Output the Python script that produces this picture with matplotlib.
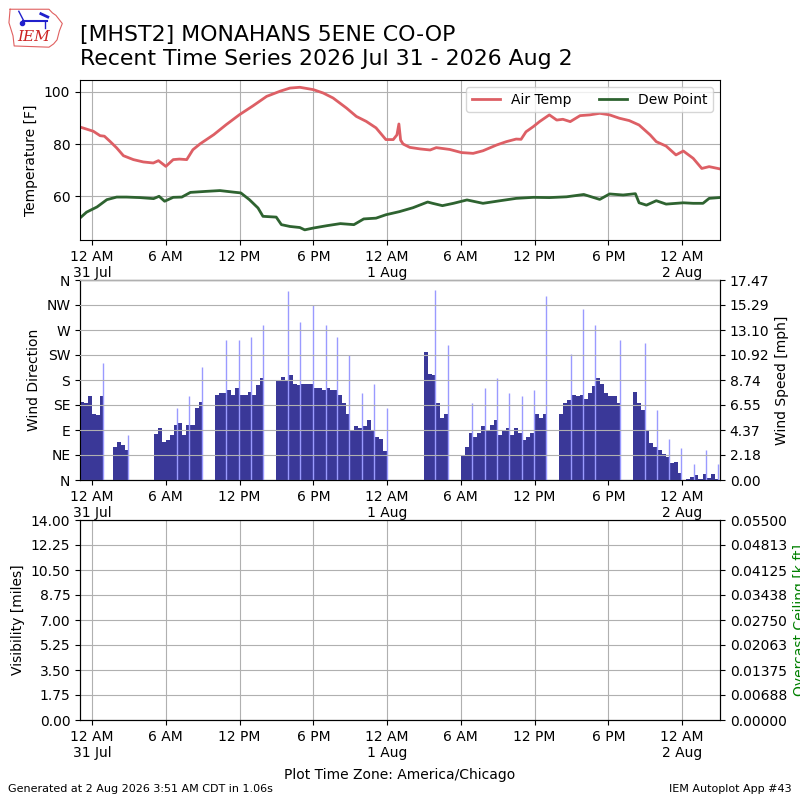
import numpy as np
import pandas as pd
import matplotlib
matplotlib.use("Agg")
import matplotlib.pyplot as plt
import matplotlib.dates as mdates
from matplotlib.ticker import FuncFormatter

# reference day, all hours below are counted from this midnight
base = pd.Timestamp("2026-07-31 00:00")

# air temperature (hours from base, F)
temp_hours = [-0.9, 0.1, 0.65, 1.0, 1.46, 2.0, 2.55, 3.36, 4.17, 4.98, 5.4, 6.0, 6.6, 7.1,
              7.7, 8.2, 8.8, 9.9, 10.9, 12.0, 13.1, 14.2, 15.3, 16.1, 16.9, 18.0, 18.8,
              19.6, 20.7, 21.5, 22.3, 23.1, 23.9, 24.5, 24.8, 24.96, 25.1, 25.3, 25.85,
              26.7, 27.5, 28.0, 29.1, 30.06, 31.0, 31.8, 32.9, 33.7, 34.5, 34.9, 35.3,
              35.9, 36.4, 37.2, 37.8, 38.3, 38.9, 39.7, 40.5, 41.3, 42.1, 42.9, 43.7,
              44.5, 45.4, 45.9, 46.7, 47.5, 48.1, 48.9, 49.6, 50.2, 51.0]
temp_vals = [86.4, 84.9, 83.2, 83.0, 81.0, 78.5, 75.5, 74.0, 73.1, 72.7, 73.6, 71.4, 74.0, 74.2,
             74.0, 77.8, 80.1, 83.6, 87.4, 91.3, 94.7, 98.3, 100.3, 101.5, 101.8, 100.9, 99.6,
             97.7, 93.8, 90.6, 88.7, 86.2, 81.7, 81.7, 83.5, 87.7, 81.5, 80.0, 78.7,
             78.1, 77.7, 78.6, 77.9, 76.7, 76.4, 77.4, 79.6, 80.9, 81.9, 81.8, 84.7,
             86.7, 88.6, 91.2, 89.2, 89.5, 88.6, 90.9, 91.2, 91.8, 91.2, 89.9, 89.0,
             87.3, 83.5, 80.9, 79.2, 75.8, 77.3, 74.5, 70.6, 71.3, 70.5]

# dew point (hours from base, F)
dew_hours = [-0.9, -0.45, 0.4, 1.2, 2.0, 2.8, 3.9, 5.0, 5.45, 5.9, 6.6, 7.3, 8.0, 9.3, 10.4,
             11.5, 12.1, 12.8, 13.5, 13.9, 14.98, 15.4, 16.1, 16.9, 17.3, 18.0, 19.1, 20.2,
             21.3, 22.1, 23.1, 23.9, 25.0, 26.1, 27.3, 27.7, 28.5, 29.4, 30.5, 31.8, 33.2,
             34.5, 35.9, 37.2, 38.6, 40.0, 41.3, 42.1, 43.2, 44.2, 44.5, 45.1, 45.9, 46.7,
             48.1, 48.9, 49.7, 50.2, 51.0]
dew_vals = [51.9, 53.8, 55.8, 58.6, 59.6, 59.6, 59.4, 59.0, 59.9, 58.0, 59.5, 59.6, 61.4, 61.8, 62.1,
            61.5, 61.2, 58.6, 55.4, 52.2, 51.9, 49.0, 48.3, 47.9, 47.0, 47.7, 48.6, 49.4,
            49.0, 51.2, 51.5, 52.8, 54.0, 55.5, 57.7, 57.2, 56.3, 57.2, 58.5, 57.2, 58.2,
            59.1, 59.5, 59.4, 59.7, 60.6, 58.7, 60.8, 60.4, 60.9, 57.4, 56.5, 58.2, 56.9,
            57.4, 57.2, 57.2, 59.1, 59.4]

# wind speed [mph], one value per 20 minutes starting 11 PM 30 Jul
wind_start = pd.Timestamp("2026-07-30 23:00")
wind_speed = [6.8, 6.7, 7.3, 5.8, 5.7, 7.3, 0, 0, 2.9, 3.3, 3.1, 2.6,
              0, 0, 0, 0, 0, 0, 4.0, 4.5, 3.3, 3.5, 3.9, 4.8, 5.0, 3.9, 4.8, 4.8, 6.3, 6.8,
              0, 0, 0, 7.4, 7.6, 7.6, 7.9, 7.4, 8.0, 7.4, 7.4, 7.7, 7.4, 8.3, 8.9,
              0, 0, 0, 8.7, 9.0, 8.7, 9.2, 8.4, 8.3, 8.4, 8.4, 8.4, 8.0, 8.0, 7.9, 8.0,
              7.9, 7.9, 7.4, 6.7, 5.8, 4.4, 4.7, 4.5, 4.7, 5.2, 4.4, 3.8, 3.6, 2.5,
              0, 0, 0, 0, 0, 0, 0, 0, 0, 11.2, 9.3, 9.2, 6.7, 5.4, 5.8,
              0, 0, 0, 2.2, 2.9, 4.1, 3.8, 4.1, 4.7, 4.4, 4.8, 5.2, 3.9, 4.4, 4.5, 3.9,
              4.5, 4.1, 3.5, 3.8, 4.1, 5.8, 5.4, 5.8,
              0, 0, 0, 5.8, 6.7, 7.0, 7.4, 7.3, 7.4, 7.1, 7.6, 8.2, 8.9, 8.4, 7.6, 7.3, 7.3, 6.7,
              0, 0, 0, 7.7, 6.7, 6.1, 4.4, 3.2, 2.9, 2.6, 2.3, 2.0, 1.5, 1.6, 0.6, 0.0,
              0.1, 0.3, 0.4, 0.1, 0.5, 0.2, 0.5, 0.1]

# hourly gusts (hours from base, mph)
gust_hours = [0.92, 2.95, 6.91, 7.91, 8.94, 10.92, 11.92, 12.95, 13.93, 15.96, 16.94, 17.94,
              19.0, 19.95, 20.92, 21.98, 22.95, 23.96, 27.91, 28.97, 30.92, 32.0, 32.95,
              33.93, 35.0, 35.96, 36.91, 38.97, 39.94, 40.92, 42.95, 44.98, 45.96, 46.94,
              47.94, 48.97, 49.92, 50.92]
gust_vals = [10.2, 3.9, 6.3, 7.3, 9.9, 12.2, 12.2, 12.5, 13.5, 16.5, 13.8, 15.3,
             13.5, 12.5, 10.9, 7.6, 8.4, 6.3, 16.6, 11.8, 6.7, 8.0, 8.9,
             7.6, 7.3, 7.9, 16.1, 11.0, 14.9, 13.5, 12.2, 12.0, 6.1, 3.6,
             2.8, 1.4, 2.6, 1.4]

dir_labels = ["N", "NE", "E", "SE", "S", "SW", "W", "NW", "N"]
speed_max = 17.472

t_temp = base + pd.to_timedelta(temp_hours, unit="h")
t_dew = base + pd.to_timedelta(dew_hours, unit="h")
t_gust = base + pd.to_timedelta(gust_hours, unit="h")
t_wind = wind_start + pd.to_timedelta(np.arange(len(wind_speed)) * 20, unit="min")
xmin = pd.Timestamp("2026-07-30 23:01")
xmax = pd.Timestamp("2026-08-02 03:05")


def fmt_time(x, pos=None):
    dt = mdates.num2date(x)
    s = dt.strftime("%-I %p")
    if dt.hour == 0:
        s += "\n" + dt.strftime("%-d %b")
    return s


def setup_time(ax):
    ax.set_xlim(xmin, xmax)
    ax.xaxis.set_major_locator(mdates.HourLocator(byhour=[0, 6, 12, 18]))
    ax.xaxis.set_major_formatter(FuncFormatter(fmt_time))


fig = plt.figure(figsize=(8, 8), dpi=100)

# title + logo
fig.text(0.1, 0.949, "[MHST2] MONAHANS 5ENE CO-OP", fontsize=15.8, va="baseline")
fig.text(0.1, 0.919, "Recent Time Series 2026 Jul 31 - 2026 Aug 2", fontsize=15.8, va="baseline")
lax = fig.add_axes([0.009, 0.94, 0.0725, 0.051])
lax.set_xlim(0, 1)
lax.set_ylim(0, 1)
lax.axis("off")
lax.plot([0.05, 0.72, 0.78, 0.84, 0.95, 0.9, 0.86, 0.8, 0.72, 0.12, 0.1, 0.03, 0.05],
         [0.95, 0.95, 0.86, 0.8, 0.6, 0.42, 0.2, 0.1, 0.02, 0.05, 0.3, 0.62, 0.95],
         color="#e06060", lw=0.8)
lax.plot([0.28, 0.68], [0.66, 0.66], color="#2020cc", lw=1.5)
lax.plot([0.2, 0.28], [0.9, 0.68], color="#2020cc", lw=1)
lax.plot([0.58, 0.7], [0.84, 0.76], color="#2020cc", lw=2)
lax.plot([0.66, 0.66], [0.66, 0.48], color="#2020cc", lw=1)
lax.plot([0.25], [0.62], "o", color="#2020cc", ms=3)
lax.text(0.45, 0.27, "IEM", color="#cc2222", fontsize=11, style="italic",
         family="serif", ha="center", va="center")

# temperature panel
ax1 = fig.add_axes([0.1, 0.7, 0.8, 0.2])
ax1.plot(t_temp, temp_vals, color="#dd5f65", lw=2, label="Air Temp")
ax1.plot(t_dew, dew_vals, color="#2e6330", lw=2, label="Dew Point")
ax1.set_ylim(43.1, 104.6)
ax1.set_ylabel("Temperature [F]")
ax1.grid(True)
ax1.legend(loc="upper right", ncol=2)
setup_time(ax1)

# wind panel
ax2 = fig.add_axes([0.1, 0.4, 0.8, 0.25])
ax2.set_ylim(0, 360)
ax2.set_yticks(np.arange(0, 361, 45))
ax2.set_yticklabels(dir_labels)
ax2.set_ylabel("Wind Direction")
ax2r = ax2.twinx()
ax2r.bar(t_wind, wind_speed, width=20 / 1440, align="edge", color="#3a3898", lw=0)
ax2r.vlines(t_gust, 0, gust_vals, color="#9a9aff", lw=1)
ax2r.set_ylim(0, speed_max)
ax2r.set_yticks(np.linspace(0, speed_max, 9))
ax2r.yaxis.set_major_formatter(FuncFormatter(lambda v, p: f"{v:.2f}"))
ax2r.set_ylabel("Wind Speed [mph]")
ax2r.set_axisbelow(False)
ax2r.grid(True)
setup_time(ax2)
setup_time(ax2r)

# visibility / ceiling panel
ax3 = fig.add_axes([0.1, 0.1, 0.8, 0.25])
ax3.set_ylim(0, 14)
ax3.set_yticks(np.linspace(0, 14, 9))
ax3.yaxis.set_major_formatter(FuncFormatter(lambda v, p: f"{v:.2f}"))
ax3.set_ylabel("Visibility [miles]")
ax3.grid(True)
setup_time(ax3)
ax3r = ax3.twinx()
ax3r.set_ylim(0, 0.055)
ax3r.set_yticks(np.linspace(0, 0.055, 9))
ax3r.yaxis.set_major_formatter(FuncFormatter(lambda v, p: f"{v:.5f}"))
ax3r.set_ylabel("Overcast Ceiling [k ft]", color="g")
setup_time(ax3r)

fig.text(0.5, 0.031, "Plot Time Zone: America/Chicago", ha="center", va="center", fontsize=10)
fig.text(0.01, 0.014, "Generated at 2 Aug 2026 3:51 AM CDT in 1.06s", fontsize=8, va="center")
fig.text(0.99, 0.014, "IEM Autoplot App #43", fontsize=8, va="center", ha="right")

fig.savefig("out.png", dpi=100)
